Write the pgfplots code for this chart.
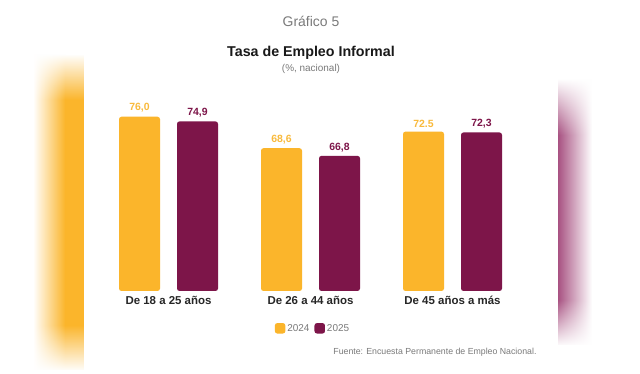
\documentclass[border=0pt]{standalone}
\usepackage{pgfplots}
\pgfplotsset{compat=1.18}
\usepackage{pgfplotstable}
\usepackage{fontspec}
\setmainfont{Liberation Sans}
\usetikzlibrary{fadings}
\definecolor{amar}{HTML}{FBB52B}
\definecolor{morado}{HTML}{7D1549}
\definecolor{amarlbl}{HTML}{F9BA3C}
\definecolor{blurp}{HTML}{A85282}
\definecolor{txtgray}{HTML}{7A7A7A}
\pgfplotstableread{
x y lbl
0 76.0 76,0
1 68.6 68,6
2 72.5 72.5
}\tuno
\pgfplotstableread{
x y lbl
0 74.9 74,9
1 66.8 66,8
2 72.3 72,3
}\tdos
\begin{document}
\begin{tikzpicture}
\fill[white] (0bp,0bp) rectangle (640bp,374bp);
% blurred background strips
\shade[left color=white, right color=amar] (33bp,4bp) rectangle (65bp,319bp);
\fill[amar] (64.5bp,4bp) rectangle (84bp,319bp);
\fill[white, path fading=south] (28bp,274bp) rectangle (85bp,320bp);
\fill[white, path fading=north] (28bp,3bp) rectangle (85bp,49bp);
\shade[left color=blurp, right color=white] (558bp,29bp) rectangle (592bp,294bp);
\fill[white, path fading=south] (557bp,239bp) rectangle (593bp,295bp);
\fill[white, path fading=north] (557bp,28bp) rectangle (593bp,74bp);
% titles
\node[text=txtgray, font=\fontsize{14}{14}\selectfont] at (311bp,353bp) {Gráfico 5};
\node[text=black!90, font=\bfseries\fontsize{14.3}{14.3}\selectfont] at (311bp,321bp) {Tasa de Empleo Informal};
\node[text=txtgray, font=\fontsize{10}{10}\selectfont] at (311bp,305bp) {(\%, nacional)};
\node[anchor=east, text=txtgray, font=\fontsize{8.8}{8.8}\selectfont] at (540bp,22bp) {Fuente: Encuesta Permanente de Empleo Nacional.};
\begin{axis}[
  at={(83.3bp,83bp)}, anchor=south west,
  scale only axis, width=454.4bp, height=199.75bp,
  xmin=-0.6, xmax=2.6, ymin=35, ymax=82,
  axis line style={draw=none},
  ytick=\empty, xtick={0,1,2},
  xticklabels={De 18 a 25 años, De 26 a 44 años, De 45 años a más},
  major tick length=0pt,
  xticklabel style={font=\bfseries\fontsize{11.5}{11.5}\selectfont, text=black!85, yshift=-2bp},
  point meta=explicit symbolic,
  nodes near coords,
  every node near coord/.append style={font=\bfseries\fontsize{10.5}{10.5}\selectfont, inner sep=0pt, yshift=4bp},
  legend columns=2,
  legend style={draw=none, fill=none, at={(0.5055,-0.188)}, anchor=center,
    font=\fontsize{10}{10}\selectfont, text=txtgray,
    /tikz/every even column/.append style={column sep=3bp}},
]
\addplot[ybar, bar width=41bp, bar shift=-29bp, fill=amar, draw=none, rounded corners=2.5bp,
  every node near coord/.append style={text=amarlbl, xshift=-29bp},
  legend image code/.code={\fill[amar] (0bp,-5bp) rectangle (10.5bp,5.5bp);}]
  table[x=x, y=y, meta=lbl]{\tuno};
\addlegendentry{2024}
\addplot[ybar, bar width=41bp, bar shift=29bp, fill=morado, draw=none, rounded corners=2.5bp,
  every node near coord/.append style={text=morado, xshift=29bp},
  legend image code/.code={\fill[morado] (0bp,-5bp) rectangle (10.5bp,5.5bp);}]
  table[x=x, y=y, meta=lbl]{\tdos};
\addlegendentry{2025}
\end{axis}
\pgfresetboundingbox
\path[use as bounding box] (0bp,0bp) rectangle (640bp,374bp);
\end{tikzpicture}
\end{document}
